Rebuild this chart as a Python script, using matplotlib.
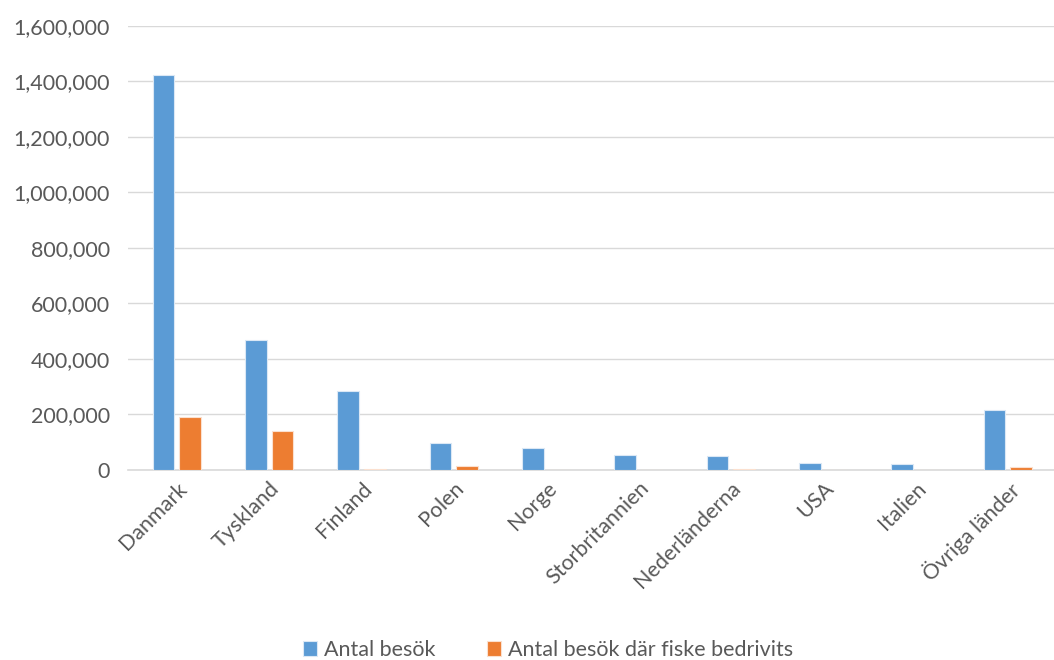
import matplotlib
matplotlib.use('Agg')
import matplotlib.pyplot as plt
import numpy as np
from matplotlib.ticker import FuncFormatter

countries = ['Danmark', 'Tyskland', 'Finland', 'Polen', 'Norge',
             'Storbritannien', 'Nederländerna', 'USA', 'Italien', 'Övriga länder']
visits = [1423000, 468000, 284000, 98000, 78000, 53000, 50000, 24000, 21000, 216000]
fishing_visits = [190000, 139500, 4000, 14000, 0, 0, 3000, 1500, 0, 11000]

plt.rcParams['font.family'] = ['Lato', 'DejaVu Sans']
text_col = '#595959'

fig = plt.figure(figsize=(10.54, 6.6), dpi=100)
ax = fig.add_axes([0.1214, 0.288, 0.8786, 0.6727])

x = np.arange(len(countries))
off = 0.144
w = 0.235
ax.bar(x - off, visits, w, color='#5B9BD5', edgecolor='#dbe8f5', linewidth=0.8,
       label='Antal besök', zorder=3)
ax.bar(x + off, fishing_visits, w, color='#ED7D31', edgecolor='#fbe0cf', linewidth=0.8,
       label='Antal besök där fiske bedrivits', zorder=3)

ax.set_xlim(-0.53, 9.5)
ax.set_ylim(0, 1600000)
ax.set_yticks(np.arange(0, 1600001, 200000))
ax.yaxis.set_major_formatter(FuncFormatter(lambda v, p: f'{int(v):,}'))
ax.grid(axis='y', color='#D9D9D9', linewidth=1, zorder=0)
for s in ['top', 'right', 'left']:
    ax.spines[s].set_visible(False)
ax.spines['bottom'].set_color('#D9D9D9')
ax.spines['bottom'].set_linewidth(1.2)
ax.tick_params(axis='both', length=0, labelsize=15.5, colors=text_col)
ax.tick_params(axis='y', pad=13)
ax.tick_params(axis='x', pad=6)
ax.set_xticks(x)
ax.set_xticklabels(countries, rotation=45, ha='right', rotation_mode='anchor')

leg = fig.legend(loc='center', bbox_to_anchor=(0.52, 0.015), ncol=2, frameon=False,
                 fontsize=15.5, handlelength=0.65, handleheight=0.65,
                 handletextpad=0.3, columnspacing=2.4)
for t in leg.get_texts():
    t.set_color(text_col)

fig.savefig('out.png', dpi=100)
